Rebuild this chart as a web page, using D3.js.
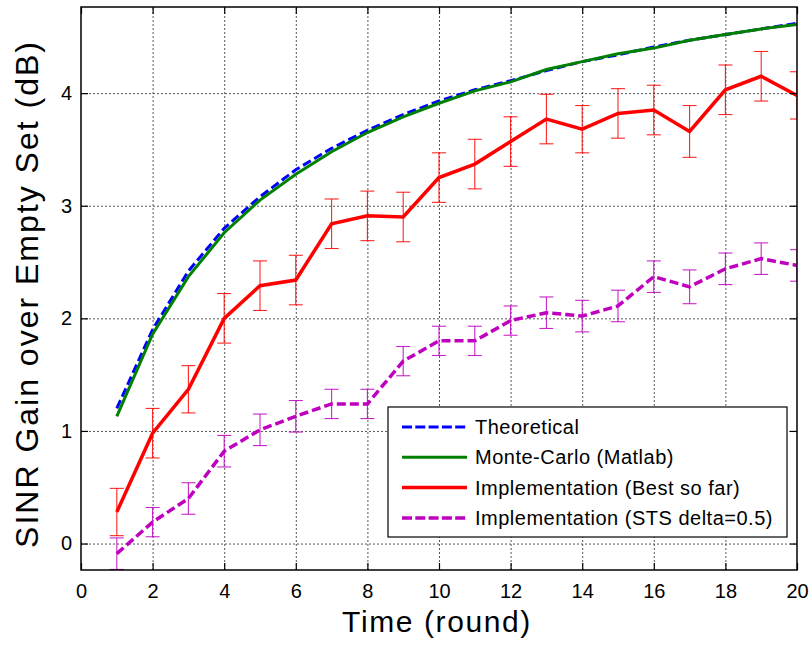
<!DOCTYPE html>
<html>
<head>
<meta charset="utf-8">
<script src="https://cdn.jsdelivr.net/npm/d3@7"></script>
<style>
    body { margin: 0; background: #ffffff; }
    #vis-container { width: 812px; height: 646px; }
    text { font-family: "Liberation Sans", Arial, sans-serif; fill: #000; }
</style>
</head>
<body>
<div id="vis-container"></div>
<script>
// Rounds on the x-axis
const rounds = [1, 2, 3, 4, 5, 6, 7, 8, 9, 10, 11, 12, 13, 14, 15, 16, 17, 18, 19, 20];

// Theoretical curve
const theoretical = [1.20, 1.90, 2.42, 2.80, 3.08, 3.32, 3.51, 3.67, 3.81, 3.93,
                     4.03, 4.11, 4.20, 4.28, 4.34, 4.41, 4.47, 4.52, 4.57, 4.62];

// Monte-Carlo (Matlab)
const monteCarlo = [1.13, 1.86, 2.37, 2.76, 3.05, 3.28, 3.48, 3.65, 3.79, 3.91,
                    4.02, 4.10, 4.21, 4.28, 4.35, 4.40, 4.47, 4.52, 4.57, 4.61];

// Implementation (Best so far) mean and error
const bestSoFar = [0.28, 0.98, 1.37, 2.00, 2.29, 2.34, 2.84, 2.91, 2.90, 3.25,
                   3.37, 3.57, 3.77, 3.68, 3.82, 3.85, 3.66, 4.03, 4.15, 3.98];
const bestSoFarErr = [0.21, 0.22, 0.21, 0.22, 0.22, 0.22, 0.22, 0.22, 0.22, 0.22,
                      0.22, 0.22, 0.22, 0.21, 0.22, 0.22, 0.23, 0.22, 0.22, 0.21];

// Implementation (STS delta=0.5) mean and error
const stsDelta = [-0.09, 0.19, 0.40, 0.82, 1.01, 1.13, 1.24, 1.24, 1.62, 1.80,
                  1.80, 1.98, 2.05, 2.02, 2.11, 2.37, 2.28, 2.44, 2.53, 2.47];
const stsDeltaErr = [0.14, 0.13, 0.14, 0.14, 0.14, 0.14, 0.13, 0.13, 0.13, 0.13,
                     0.13, 0.13, 0.14, 0.14, 0.14, 0.14, 0.15, 0.14, 0.14, 0.14];

// Tick values
const xTicks = [0, 2, 4, 6, 8, 10, 12, 14, 16, 18, 20];
const yTicks = [0, 1, 2, 3, 4];

// Legend labels
const legendLabels = ["Theoretical", "Monte-Carlo (Matlab)", "Implementation (Best so far)", "Implementation (STS delta=0.5)"];

function main()
{
    // Chart dimensions
    const chartDimensions = { width: 812, height: 646 };

    // Plot area margins
    const margin = { top: 7, right: 15, bottom: 76, left: 81 };
    const plotWidth = chartDimensions.width - margin.left - margin.right;
    const plotHeight = chartDimensions.height - margin.top - margin.bottom;

    // Series styles (in the same order as legend labels)
    const seriesStyles = [
        { color: "#0000ff", width: 3, dash: "9,4" },
        { color: "#008000", width: 3, dash: null },
        { color: "#ff0000", width: 3.5, dash: null },
        { color: "#bf00bf", width: 3.5, dash: "9,4" }
    ];

    const chartSvg = d3.select("#vis-container")
        .append("svg")
        .attr("width", chartDimensions.width)
        .attr("height", chartDimensions.height);

    const plot = chartSvg.append("g")
        .attr("transform", `translate(${margin.left}, ${margin.top})`);

    // Scales
    const xScale = d3.scaleLinear().domain([0, 20]).range([0, plotWidth]);
    const yScale = d3.scaleLinear().domain([-0.235, 4.765]).range([plotHeight, 0]);

    // Clip path for plot area
    chartSvg.append("defs").append("clipPath")
        .attr("id", "plot-clip")
        .append("rect")
        .attr("width", plotWidth)
        .attr("height", plotHeight);

    // Grid lines
    plot.append("g")
        .attr("class", "grid")
        .attr("transform", `translate(0, ${plotHeight})`)
        .call(d3.axisBottom(xScale).tickValues(xTicks.slice(1, -1)).tickSize(-plotHeight).tickFormat(""));

    plot.append("g")
        .attr("class", "grid")
        .call(d3.axisLeft(yScale).tickValues(yTicks).tickSize(-plotWidth).tickFormat(""));

    plot.selectAll(".grid .domain").remove();
    plot.selectAll(".grid line")
        .attr("stroke", "#444")
        .attr("stroke-width", 0.9)
        .attr("stroke-dasharray", "2,2");

    // Data lines
    const seriesData = [theoretical, monteCarlo, bestSoFar, stsDelta];
    const seriesErr = [null, null, bestSoFarErr, stsDeltaErr];

    const lineGen = d3.line()
        .x((_, i) => xScale(rounds[i]))
        .y(d => yScale(d));

    const dataLayer = plot.append("g").attr("clip-path", "url(#plot-clip)");

    // Draw error bars first, then lines
    seriesErr.forEach((errs, s) => {
        if (!errs) return;
        const color = seriesStyles[s].color;
        const g = dataLayer.append("g");
        const values = seriesData[s];
        rounds.forEach((r, i) => {
            const cx = xScale(r);
            const top = yScale(values[i] + errs[i]);
            const bottom = yScale(values[i] - errs[i]);
            g.append("line").attr("x1", cx).attr("x2", cx).attr("y1", top).attr("y2", bottom);
            g.append("line").attr("x1", cx - 7).attr("x2", cx + 7).attr("y1", top).attr("y2", top);
            g.append("line").attr("x1", cx - 7).attr("x2", cx + 7).attr("y1", bottom).attr("y2", bottom);
        });
        g.selectAll("line")
            .attr("stroke", color)
            .attr("stroke-width", 1.1)
            .attr("opacity", 0.85);
    });

    seriesData.forEach((values, s) => {
        const style = seriesStyles[s];
        dataLayer.append("path")
            .datum(values)
            .attr("d", lineGen)
            .attr("fill", "none")
            .attr("stroke", style.color)
            .attr("stroke-width", style.width)
            .attr("stroke-dasharray", style.dash);
    });

    // Axis box
    plot.append("rect")
        .attr("width", plotWidth)
        .attr("height", plotHeight)
        .attr("fill", "none")
        .attr("stroke", "#000")
        .attr("stroke-width", 1.5);

    // Axes with inward ticks
    const xAxis = plot.append("g")
        .attr("transform", `translate(0, ${plotHeight})`)
        .call(d3.axisBottom(xScale).tickValues(xTicks).tickSizeInner(-7).tickSizeOuter(0).tickPadding(14).tickFormat(d3.format("d")));

    const xAxisTop = plot.append("g")
        .call(d3.axisTop(xScale).tickValues(xTicks).tickSizeInner(-7).tickSizeOuter(0).tickFormat(""));

    const yAxis = plot.append("g")
        .call(d3.axisLeft(yScale).tickValues(yTicks).tickSizeInner(-7).tickSizeOuter(0).tickPadding(9).tickFormat(d3.format("d")));

    const yAxisRight = plot.append("g")
        .attr("transform", `translate(${plotWidth}, 0)`)
        .call(d3.axisRight(yScale).tickValues(yTicks).tickSizeInner(-7).tickSizeOuter(0).tickFormat(""));

    [xAxis, xAxisTop, yAxis, yAxisRight].forEach(ax => {
        ax.select(".domain").remove();
        ax.selectAll("line").attr("stroke", "#000").attr("stroke-width", 1.2);
        ax.selectAll("text")
            .style("font-family", "'Liberation Sans', Arial, sans-serif")
            .style("font-size", "20px")
            .attr("fill", "#000");
    });

    // Legend
    const legend = plot.append("g")
        .attr("transform", `translate(${388 - margin.left}, ${407 - margin.top})`);

    legend.append("rect")
        .attr("width", 399)
        .attr("height", 130)
        .attr("fill", "#fff")
        .attr("stroke", "#000")
        .attr("stroke-width", 1.2);

    legendLabels.forEach((label, i) => {
        const style = seriesStyles[i];
        const ly = 20 + i * 30.3;
        legend.append("line")
            .attr("x1", 14).attr("x2", 79)
            .attr("y1", ly).attr("y2", ly)
            .attr("stroke", style.color)
            .attr("stroke-width", style.width)
            .attr("stroke-dasharray", style.dash ? "10,3.3" : null);
        legend.append("text")
            .attr("x", 87)
            .attr("y", ly + 7)
            .style("font-size", "20px")
            .style("letter-spacing", "0.5px")
            .text(label);
    });

    // Axis labels
    chartSvg.append("text")
        .attr("x", 437)
        .attr("y", 632)
        .attr("text-anchor", "middle")
        .style("font-size", "30px")
        .style("letter-spacing", "1.6px")
        .text("Time (round)");

    chartSvg.append("text")
        .attr("transform", "translate(38, 294) rotate(-90)")
        .attr("text-anchor", "middle")
        .style("font-size", "32px")
        .style("letter-spacing", "2px")
        .text("SINR Gain over Empty Set (dB)");
}

document.addEventListener("DOMContentLoaded", main);
</script>
</body>
</html>
